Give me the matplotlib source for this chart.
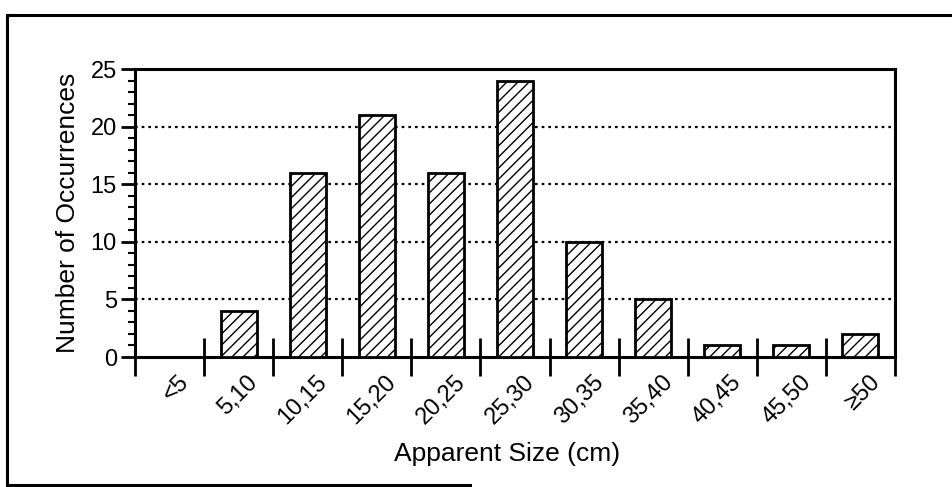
import matplotlib.pyplot as plt
import numpy as np
from matplotlib.lines import Line2D
from matplotlib.transforms import ScaledTranslation

plt.rcParams['font.family'] = ['Liberation Sans', 'DejaVu Sans']
plt.rcParams['hatch.linewidth'] = 1.0

# data
size_bins = ['<5', '5,10', '10,15', '15,20', '20,25', '25,30',
             '30,35', '35,40', '40,45', '45,50', '\u226550']
occurrences = [0, 4, 16, 21, 16, 24, 10, 5, 1, 1, 2]
y_ticks = [0, 5, 10, 15, 20, 25]

fig = plt.figure(figsize=(9.53, 4.87), dpi=100)
W, H = 953, 487
ax = fig.add_axes([135 / W, 1 - 357 / H, (895 - 135) / W, (357 - 69) / H])

x = np.arange(len(size_bins))
ax.bar(x, occurrences, width=0.52, color='white', edgecolor='black',
       linewidth=2, hatch='///', zorder=3)

ax.set_xlim(-0.5, len(size_bins) - 0.5)
ax.set_ylim(0, 25)

# dotted horizontal grid
for y in y_ticks[1:-1]:
    ax.axhline(y, color='black', linestyle=(0, (1.2, 1.8)), linewidth=1.6, zorder=1)

for s in ax.spines.values():
    s.set_linewidth(2.2)

ax.set_yticks(y_ticks)
ax.set_yticks(np.arange(0, 26, 1), minor=True)
ax.tick_params(axis='y', which='major', direction='out', length=10, width=2,
               labelsize=17, pad=3)
ax.tick_params(axis='y', which='minor', direction='out', length=5, width=1.5)

# category labels at bar centres, tick marks at bin edges
ax.set_xticks(x)
ax.set_xticklabels(size_bins, rotation=45, ha='right', va='center',
                   rotation_mode='anchor', fontsize=17)
ax.set_xticks(np.arange(-0.5, len(size_bins), 1), minor=True)
ax.tick_params(axis='x', which='major', length=0, pad=16)
ax.tick_params(axis='x', which='minor', direction='inout', length=27, width=2)
shift = ScaledTranslation(0.16, 0, fig.dpi_scale_trans)
for lab in ax.get_xticklabels():
    lab.set_transform(lab.get_transform() + shift)

ax.set_ylabel('Number of Occurrences', fontsize=19)
ax.set_xlabel('Apparent Size (cm)', fontsize=19)
ax.yaxis.set_label_coords(-0.072, 0.5)
ax.xaxis.set_label_coords(0.49, -0.295)

# scanned frame around the figure
fig.add_artist(Line2D([7 / W, 7 / W], [1 - 15 / H, 1 - 485 / H], color='black', linewidth=2.2))
fig.add_artist(Line2D([7 / W, 1.0], [1 - 15 / H, 1 - 15 / H], color='black', linewidth=2.2))
fig.add_artist(Line2D([7 / W, 470 / W], [1 - 485 / H, 1 - 485 / H], color='black', linewidth=2.2))

fig.savefig('out.png', dpi=100)
